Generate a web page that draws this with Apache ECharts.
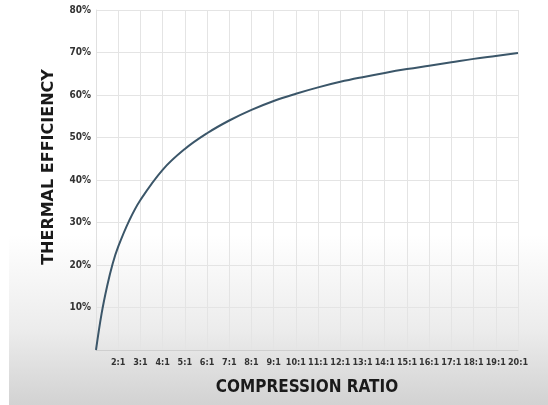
<!DOCTYPE html>
<html>
<head>
<meta charset="utf-8">
<script src="https://cdn.jsdelivr.net/npm/echarts@6/dist/echarts.min.js"></script>
<style>
  html, body { margin: 0; padding: 0; }
  body {
    width: 548px; height: 405px; position: relative;
    background: linear-gradient(to bottom, #ffffff 0px, #ffffff 235px, #ececec 330px, #d2d2d2 405px);
  }
  #strip { position: absolute; left: 0; top: 0; width: 9px; height: 405px; background: #ffffff; }
  #chart { position: absolute; left: 0; top: 0; width: 548px; height: 405px; }
</style>
</head>
<body>
<div id="strip"></div>
<div id="chart"></div>
<script>
// compression ratio (x:1) and thermal efficiency (%)
var ratios = [1, 1.25, 1.5, 1.75, 2, 2.5, 3, 4, 5, 6, 7, 8, 9, 10, 11, 12, 13, 14, 15, 16, 17, 18, 19, 20];
var efficiency = [0, 8.5, 15, 20.3, 24.3, 30.5, 35.3, 42.4, 47.3, 51, 54, 56.5, 58.6, 60.3, 61.8, 63.1, 64.2, 65.2, 66.1, 66.9, 67.7, 68.5, 69.2, 69.9];

var x_title = 'COMPRESSION RATIO';
var y_title = 'THERMAL EFFICIENCY';

var chart_div = echarts.init(document.getElementById('chart'));
var points = ratios.map(function(r, i){ return [r, efficiency[i]]; });

option = {
  backgroundColor: 'transparent',
  animation: false,
  grid: {
    left: 96,
    right: 30,
    top: 10,
    bottom: 55
  },
  xAxis: {
    type: 'value',
    min: 1,
    max: 20,
    interval: 1,
    name: x_title,
    nameLocation: 'middle',
    nameGap: 29,
    nameTextStyle: {
      fontFamily: 'DejaVu Sans Condensed',
      fontWeight: 'bold',
      fontSize: 17,
      color: '#1a1a1a'
    },
    axisLine: { lineStyle: { color: '#cfcfcf', width: 1 } },
    axisTick: { show: false },
    axisLabel: {
      margin: 8,
      fontFamily: 'DejaVu Sans Condensed',
      fontWeight: 'bold',
      fontSize: 9,
      color: '#333',
      formatter: function(v){ return v === 1 ? '' : v + ':1'; }
    },
    splitLine: { show: true, lineStyle: { color: '#e4e4e4', width: 1 } }
  },
  yAxis: {
    type: 'value',
    min: 0,
    max: 80,
    interval: 10,
    name: y_title,
    nameLocation: 'middle',
    nameGap: 39,
    nameTextStyle: {
      fontFamily: 'DejaVu Sans',
      fontWeight: 'bold',
      fontSize: 16,
      color: '#1a1a1a',
      padding: [0, 0, 0, 26]
    },
    axisLine: { show: true, lineStyle: { color: '#e0e0e0', width: 1 } },
    axisTick: { show: false },
    axisLabel: {
      margin: 5,
      fontFamily: 'DejaVu Sans Condensed',
      fontWeight: 'bold',
      fontSize: 10,
      color: '#333',
      formatter: function(v){ return v === 0 ? '' : v + '%'; }
    },
    splitLine: { show: true, lineStyle: { color: '#e4e4e4', width: 1 } }
  },
  series: [
    {
      type: 'line',
      data: points,
      smooth: 0.4,
      symbol: 'none',
      lineStyle: { color: '#3b5669', width: 2 }
    }
  ]
};
chart_div.setOption(option);
</script>
</body>
</html>
